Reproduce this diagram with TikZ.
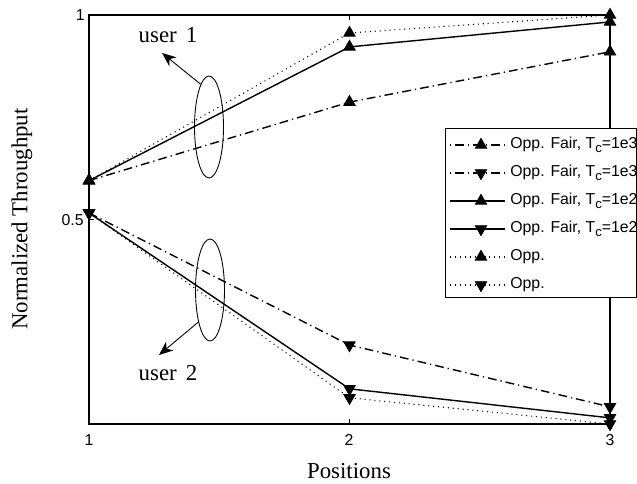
\documentclass[tikz,border=0pt]{standalone}
\usepackage{amsmath}
\usepackage{fontspec}
\setmainfont{Liberation Serif}
\newfontfamily\helv{Liberation Sans}
\usepackage{tikz}
\usetikzlibrary{positioning}
\usetikzlibrary{shapes.geometric, arrows.meta, plotmarks}
\tikzstyle{arrow} = [line width=0.5pt,-{Stealth[length=8pt,width=6.5pt,inset=2.5pt]}]
\tikzstyle{dashdot} = [line width=0.8pt,dash pattern=on 5pt off 2.3pt on 0.7pt off 2.3pt]
\tikzstyle{solidline} = [line width=0.8pt]
\tikzstyle{dotline} = [line width=0.6pt,dash pattern=on 0.6pt off 2.2pt]
\tikzstyle{upmark} = [mark=triangle*,mark size=3.7pt,mark options={solid,fill=black,line width=0.5pt}]
\tikzstyle{downmark} = [mark=triangle*,mark size=3.7pt,mark options={solid,fill=black,line width=0.5pt,rotate=180}]
\tikzstyle{ticklbl} = [font=\helv\fontsize{9}{10}\selectfont,inner sep=0pt]
\tikzstyle{lbl} = [font=\fontsize{13}{14}\selectfont,inner sep=0pt]
\tikzstyle{ring} = [ellipse,draw,line width=0.5pt,inner sep=0pt,minimum width=0.58cm,minimum height=2.04cm]
\newcommand{\Tc}{T\raisebox{-0.55ex}{\fontsize{7.5}{8}\selectfont c}}

\begin{document}
\begin{tikzpicture}
	\useasboundingbox (0,0) rectangle (12.74,9.68);
	%Axes
	\draw[line width=0.8pt] (1.78,1.2) rectangle (12.2,9.38);
	\begin{scope}[shift={(-3.43cm,1.2cm)},x=5.21cm,y=8.18cm]
		%Ticks
		\draw[line width=0.6pt] (2,0) -- ++(0,0.012) (2,1) -- ++(0,-0.012)
			(1,0.5) -- ++(0.02,0) (3,0.5) -- ++(-0.02,0);
		%Curves
		\draw[dashdot,upmark] plot coordinates {(1,0.595) (2,0.787) (3,0.91)};
		\draw[dashdot,downmark] plot coordinates {(1,0.516) (2,0.193) (3,0.042)};
		\draw[solidline,upmark] plot coordinates {(1,0.595) (2,0.922) (3,0.983)};
		\draw[solidline,downmark] plot coordinates {(1,0.516) (2,0.086) (3,0.015)};
		\draw[dotline,upmark] plot coordinates {(1,0.595) (2,0.956) (3,1.0)};
		\draw[dotline,downmark] plot coordinates {(1,0.516) (2,0.064) (3,0.0)};
	\end{scope}
	%Tick labels
	\node[ticklbl] (xt1) at (1.78,0.88) {1};
	\node[ticklbl] (xt2) at (6.98,0.88) {2};
	\node[ticklbl] (xt3) at (12.2,0.88) {3};
	\node[ticklbl,anchor=east] (yt05) at (1.68,5.28) {0.5};
	\node[ticklbl,anchor=east] (yt1) at (1.70,9.38) {1};
	%Axis labels
	\node[lbl,rotate=90] (ylab) at (0.44,5.3) {Normalized Throughput};
	\node[lbl] (xlab) at (6.98,0.26) {Positions};
	%Annotations
	\node[ring] (ell1) at (4.18,7.14) {};
	\node[ring] (ell2) at (4.2,3.88) {};
	\node[lbl] (user1) at (3.36,8.98) {user\hspace{0.4em}1};
	\node[lbl] (user2) at (3.36,2.22) {user\hspace{0.4em}2};
	\coordinate (tip1) at (3.24,8.62);
	\coordinate (tip2) at (3.18,2.58);
	\draw[arrow] (ell1.101) -- (tip1);
	\draw[arrow] (ell2.250) -- (tip2);
	%Legend
	\node[draw,fill=white,line width=0.6pt,inner sep=0pt,minimum width=3.82cm,minimum height=3.38cm,anchor=north west] (legend) at (8.9,7.12) {};
	\draw[dashdot,upmark,mark indices={2},dash phase=7.3pt] plot coordinates {(9.0,6.78) (9.62,6.78) (10.1,6.78)};
	\draw[dashdot,downmark,mark indices={2},dash phase=7.3pt] plot coordinates {(9.0,6.22) (9.62,6.22) (10.1,6.22)};
	\draw[solidline,upmark,mark indices={2}] plot coordinates {(9.0,5.66) (9.62,5.66) (10.1,5.66)};
	\draw[solidline,downmark,mark indices={2}] plot coordinates {(9.0,5.10) (9.62,5.10) (10.1,5.10)};
	\draw[dotline,upmark,mark indices={2}] plot coordinates {(9.0,4.54) (9.62,4.54) (10.1,4.54)};
	\draw[dotline,downmark,mark indices={2}] plot coordinates {(9.0,3.98) (9.62,3.98) (10.1,3.98)};
	\node[ticklbl,anchor=west] (leg1) at (10.2,6.78) {Opp. Fair, \Tc=1e3};
	\node[ticklbl,anchor=west] (leg2) at (10.2,6.22) {Opp. Fair, \Tc=1e3};
	\node[ticklbl,anchor=west] (leg3) at (10.2,5.66) {Opp. Fair, \Tc=1e2};
	\node[ticklbl,anchor=west] (leg4) at (10.2,5.10) {Opp. Fair, \Tc=1e2};
	\node[ticklbl,anchor=west] (leg5) at (10.2,4.54) {Opp.};
	\node[ticklbl,anchor=west] (leg6) at (10.2,3.98) {Opp.};
\end{tikzpicture}
\end{document}
